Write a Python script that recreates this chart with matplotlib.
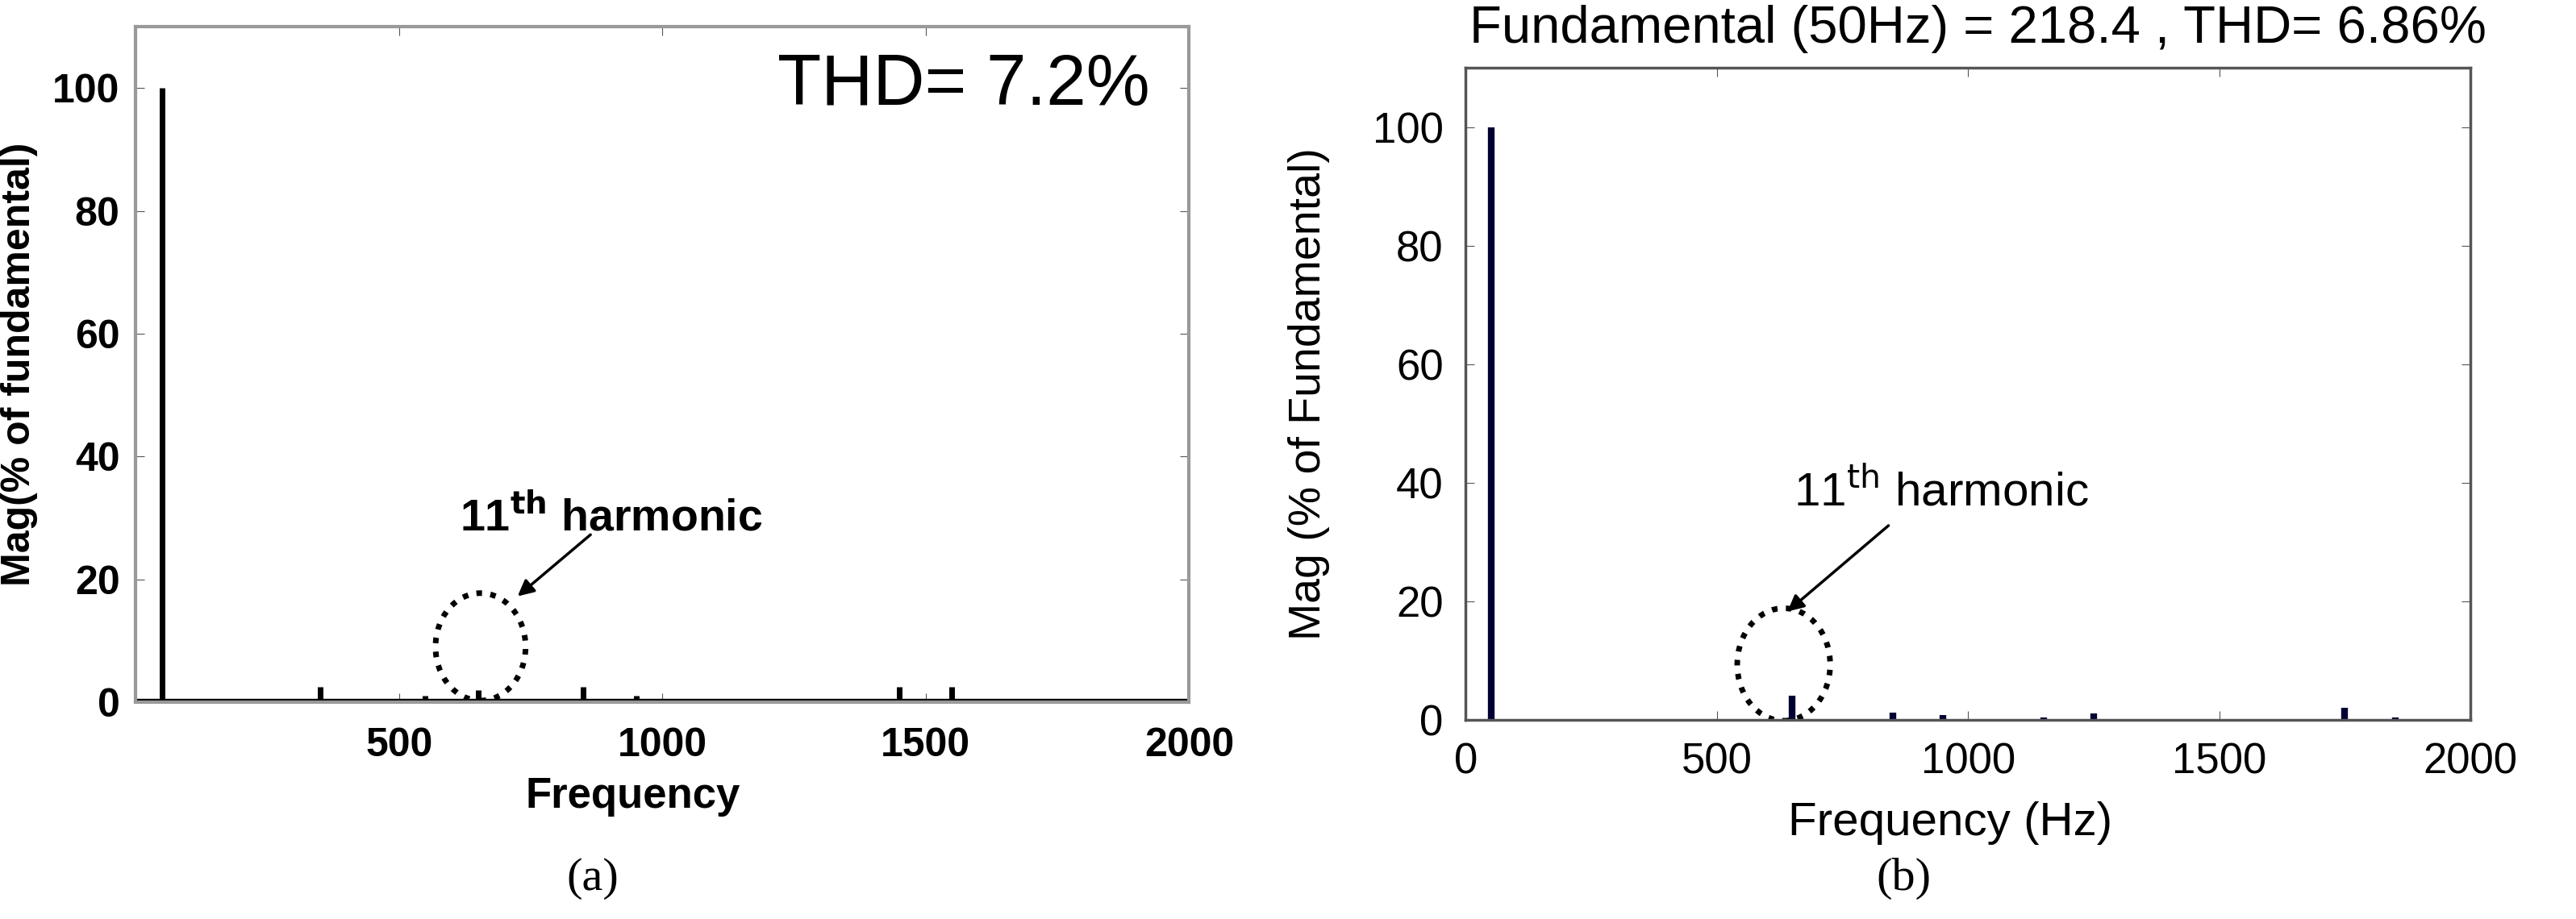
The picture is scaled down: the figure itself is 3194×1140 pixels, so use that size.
import matplotlib
matplotlib.use("Agg")
import matplotlib.pyplot as plt
from matplotlib.patches import Ellipse

plt.rcParams['font.family'] = ['Liberation Sans', 'DejaVu Sans']

freq_a = [50, 350, 550, 650, 850, 950, 1450, 1550]
mag_a = [100, 2.5, 1.0, 2.0, 2.5, 1.0, 2.5, 2.5]
freq_b = [50, 650, 850, 950, 1150, 1250, 1750, 1850]
mag_b = [100, 4.0, 1.2, 0.8, 0.3, 1.0, 2.0, 0.3]
yticks = [0, 20, 40, 60, 80, 100]
xticks_a = [500, 1000, 1500, 2000]
xticks_b = [0, 500, 1000, 1500, 2000]

fig = plt.figure(figsize=(31.94, 11.40), dpi=100)

# Panel (a)
ax = fig.add_axes([0.0526, 0.236, 0.409, 0.735])
ax.vlines(freq_a, 0, mag_a, color='black', linewidth=5)
ax.axhline(0, color='black', linewidth=6)
ax.set_xlim(0, 2000); ax.set_ylim(0, 110)
ax.set_xticks(xticks_a); ax.set_yticks(yticks)
ax.tick_params(axis='x', pad=22)
ax.tick_params(axis='y', pad=14)
ax.tick_params(labelsize=36, direction='in', length=8, top=True, right=True, color='#555555')
for l in ax.get_xticklabels() + ax.get_yticklabels():
    l.set_fontweight('bold')
for s in ax.spines.values():
    s.set_color('#999999'); s.set_linewidth(3)
ax.set_xlabel('Frequency', fontsize=38, fontweight='bold')
ax.xaxis.set_label_coords(944 / 2000, -0.11)
ax.set_ylabel('Mag(% of fundamental)', fontsize=36, fontweight='bold')
ax.yaxis.set_label_coords(-0.093, 0.5)
ax.text(1926, 100.3, 'THD= 7.2%', fontsize=64, ha='right', va='center')
ax.add_patch(Ellipse((655, 9), 171, 17.5, fill=False, linestyle=(0, (1, 1.5)), linewidth=5, color='black'))
ax.annotate('', xy=(722, 17), xytext=(867, 27.5),
            arrowprops=dict(arrowstyle='-|>', color='black', lw=2.5, mutation_scale=30))
ax.text(615, 30, '11$^{\\mathbf{th}}$ harmonic', fontsize=40, fontweight='bold', va='center')
fig.text(0.230, 0.044, '(a)', fontsize=42, family='Liberation Serif', ha='center', va='center')

# Panel (b)
bx = fig.add_axes([0.569, 0.217, 0.390, 0.709])
bx.vlines(freq_b, 0, mag_b, color='#000033', linewidth=6)
bx.set_xlim(0, 2000); bx.set_ylim(0, 110)
bx.set_xticks(xticks_b); bx.set_yticks(yticks)
bx.tick_params(axis='x', pad=20)
bx.tick_params(axis='y', pad=20)
bx.tick_params(labelsize=38, direction='in', length=8, top=True, right=True, color='#555555')
for s in bx.spines.values():
    s.set_color('#555555'); s.set_linewidth(2.5)
bx.set_xlabel('Frequency (Hz)', fontsize=42)
bx.xaxis.set_label_coords(965 / 2000, -0.125)
bx.set_ylabel('Mag (% of Fundamental)', fontsize=40)
bx.yaxis.set_label_coords(-0.135, 0.5)
fig.text(0.768, 0.968, 'Fundamental (50Hz) = 218.4 , THD= 6.86%', fontsize=47, ha='center', va='center')
bx.add_patch(Ellipse((633, 9.3), 185, 19, fill=False, linestyle=(0, (1, 1.5)), linewidth=5, color='black'))
bx.annotate('', xy=(637, 18), xytext=(845, 33),
            arrowprops=dict(arrowstyle='-|>', color='black', lw=2.5, mutation_scale=30))
bx.text(653, 38.4, '11$^{\\mathrm{th}}$ harmonic', fontsize=42, va='center')
fig.text(0.739, 0.044, '(b)', fontsize=42, family='Liberation Serif', ha='center', va='center')

fig.savefig('out.png', dpi=100, facecolor='white')
